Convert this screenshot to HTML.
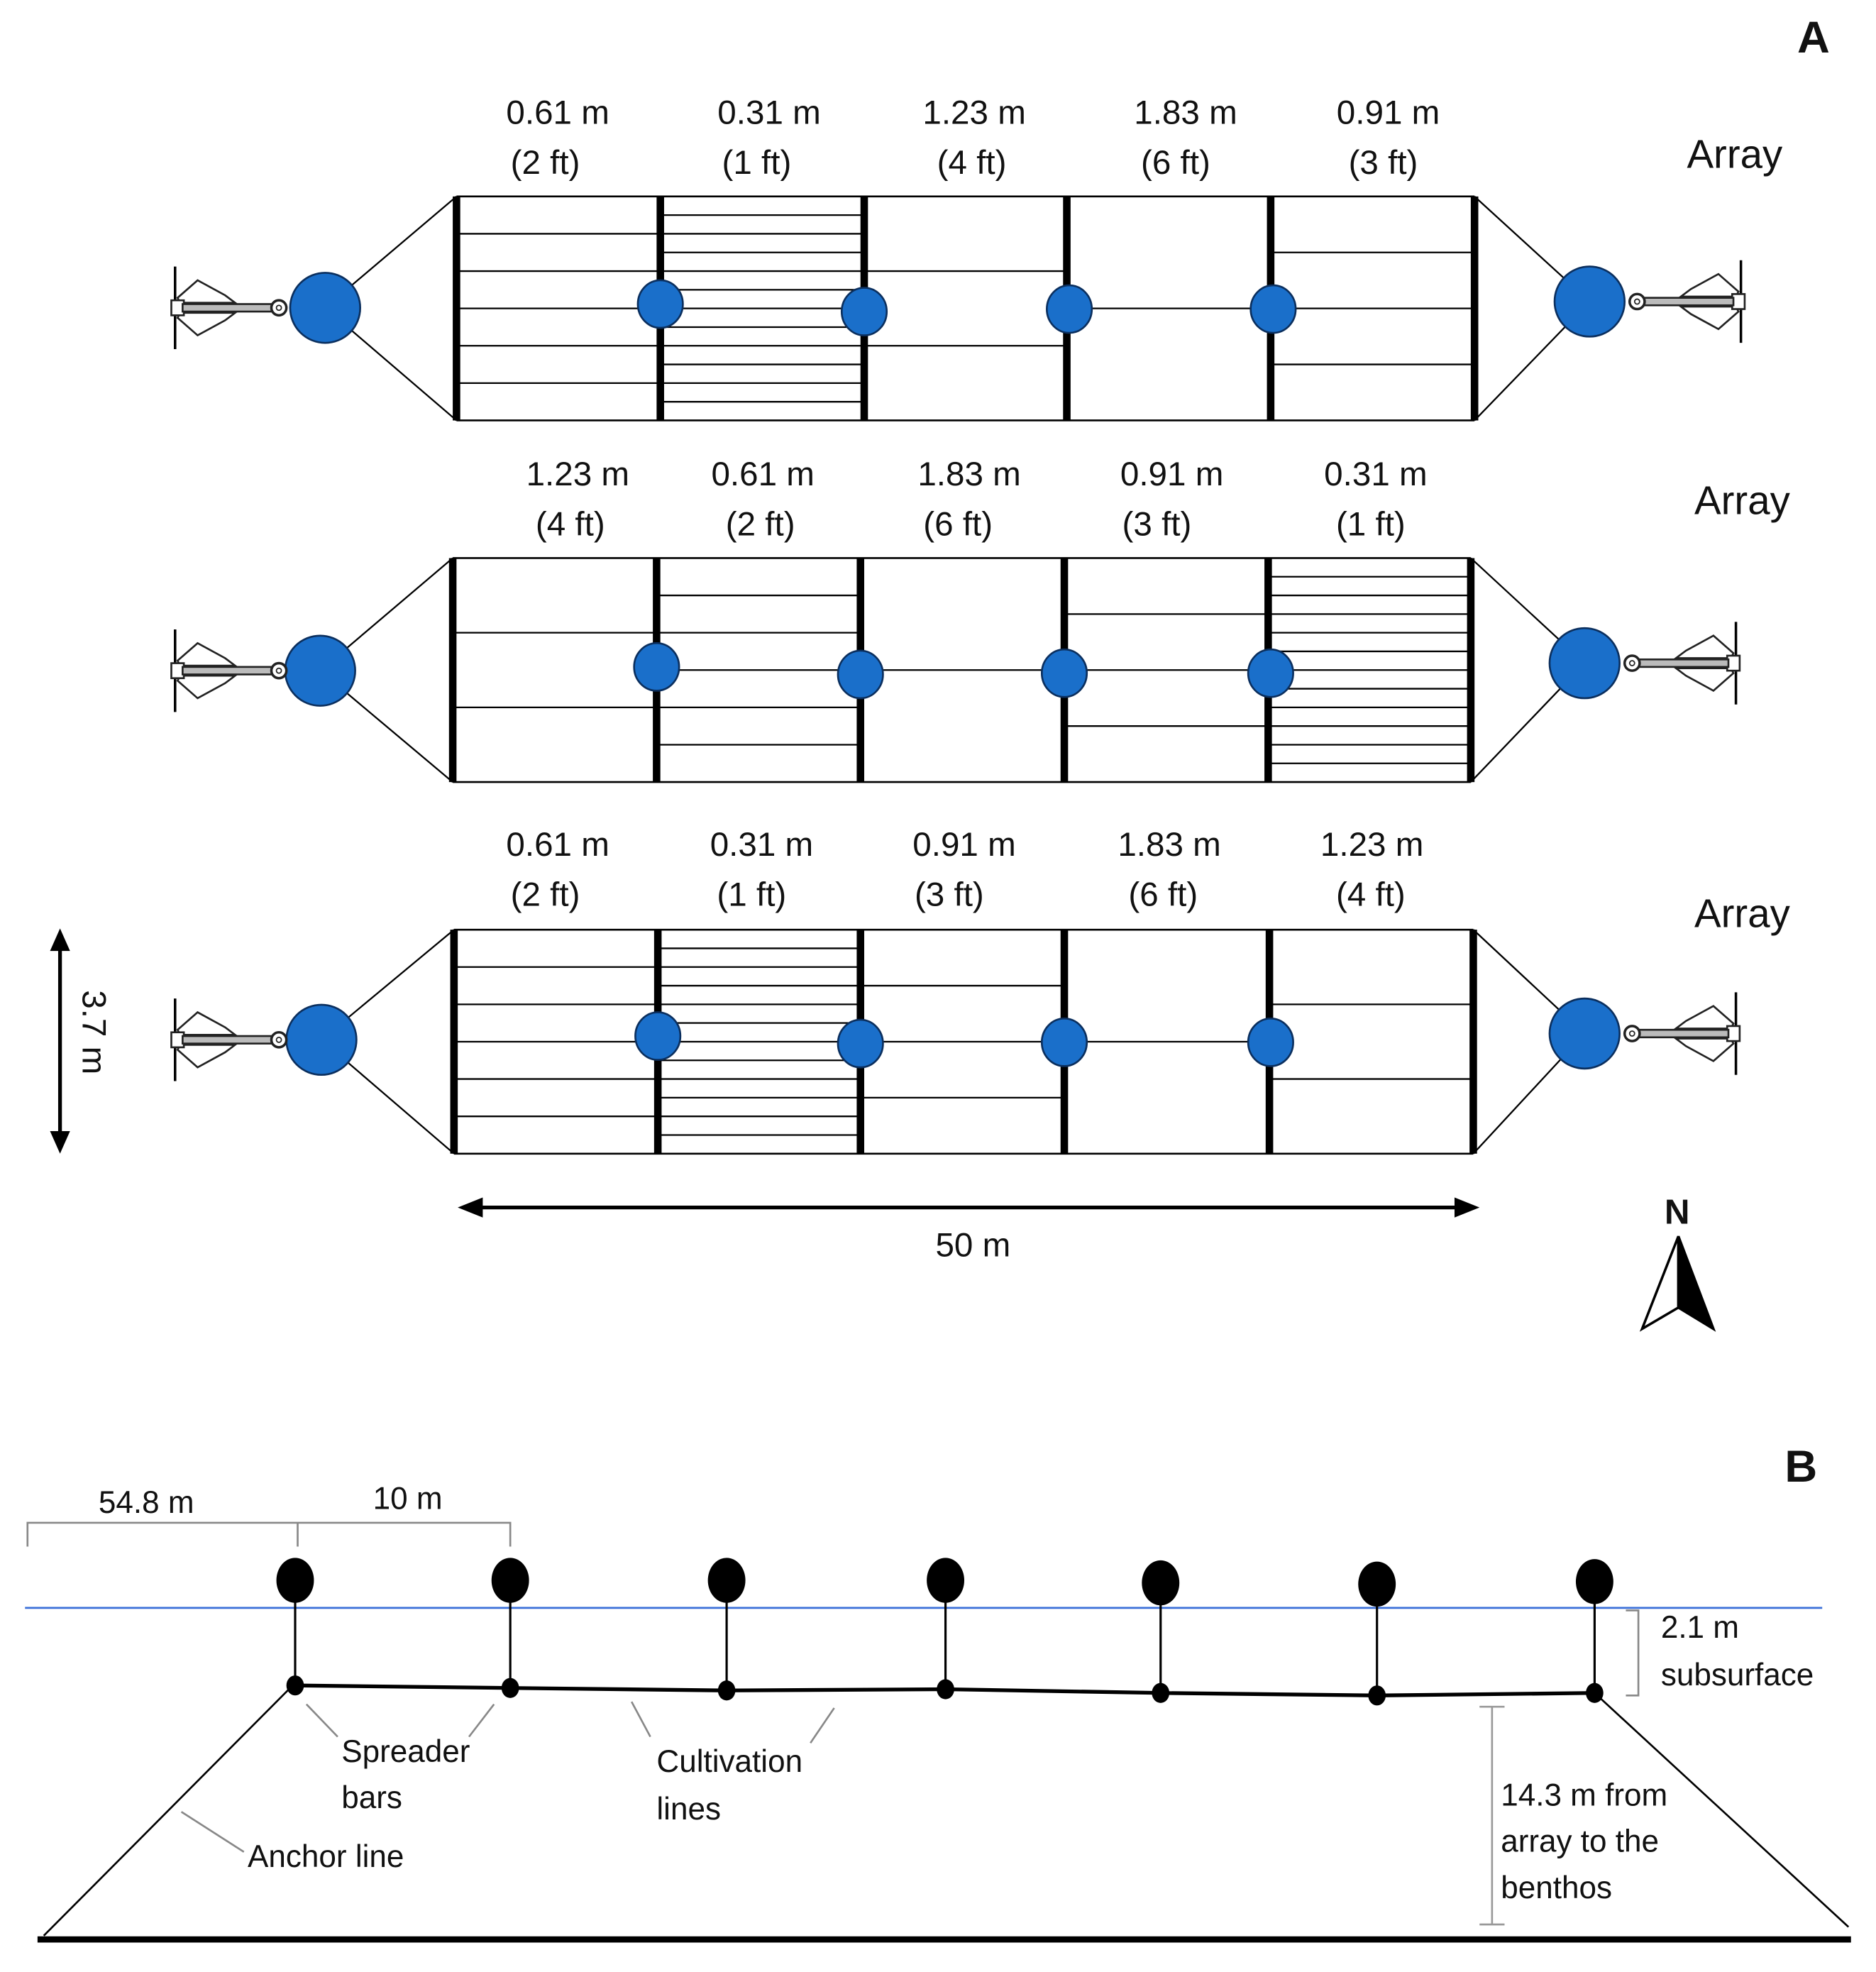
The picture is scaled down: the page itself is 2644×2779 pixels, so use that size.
<!DOCTYPE html>
<html><head><meta charset="utf-8"><style>
html,body{margin:0;padding:0;background:#fff}
svg{display:block}
text{font-family:"Liberation Sans",sans-serif;fill:#111}
</style></head><body>
<svg id="s" width="2644" height="2779" viewBox="0 0 1500 1576" preserveAspectRatio="none" xmlns="http://www.w3.org/2000/svg">
<defs>
<g id="anc">
<line x1="0" y1="-33" x2="0" y2="33" stroke="#000" stroke-width="2"/>
<path d="M2,-8 L18,-22 L40,-10 L48,-4 L4,-4 Z M2,8 L18,22 L40,10 L48,4 L4,4 Z" fill="#fff" stroke="#222" stroke-width="1.5"/>
<rect x="-3" y="-6" width="10" height="12" fill="#fff" stroke="#222" stroke-width="1.5"/>
<rect x="6" y="-3" width="72" height="6" fill="#bbb" stroke="#222" stroke-width="1.5"/>
<circle cx="83" cy="0" r="6" fill="#fff" stroke="#222" stroke-width="2"/>
<circle cx="83" cy="0" r="2" fill="#fff" stroke="#222" stroke-width="1"/>
</g>
</defs>
<g id="arrays"></g>
<!-- Panel A labels -->
<text x="1450" y="42" font-size="36" font-weight="bold" text-anchor="middle">A</text>
<g font-size="27" text-anchor="middle">
<text x="446" y="99">0.61 m</text><text x="436" y="139">(2 ft)</text>
<text x="615" y="99">0.31 m</text><text x="605" y="139">(1 ft)</text>
<text x="779" y="99">1.23 m</text><text x="777" y="139">(4 ft)</text>
<text x="948" y="99">1.83 m</text><text x="940" y="139">(6 ft)</text>
<text x="1110" y="99">0.91 m</text><text x="1106" y="139">(3 ft)</text>

<text x="462" y="388">1.23 m</text><text x="456" y="428">(4 ft)</text>
<text x="610" y="388">0.61 m</text><text x="608" y="428">(2 ft)</text>
<text x="775" y="388">1.83 m</text><text x="766" y="428">(6 ft)</text>
<text x="937" y="388">0.91 m</text><text x="925" y="428">(3 ft)</text>
<text x="1100" y="388">0.31 m</text><text x="1096" y="428">(1 ft)</text>

<text x="446" y="684">0.61 m</text><text x="436" y="724">(2 ft)</text>
<text x="609" y="684">0.31 m</text><text x="601" y="724">(1 ft)</text>
<text x="771" y="684">0.91 m</text><text x="759" y="724">(3 ft)</text>
<text x="935" y="684">1.83 m</text><text x="930" y="724">(6 ft)</text>
<text x="1097" y="684">1.23 m</text><text x="1096" y="724">(4 ft)</text>
</g>
<g font-size="32" text-anchor="middle">
<text x="1387" y="134">Array</text>
<text x="1393" y="411">Array</text>
<text x="1393" y="741">Array</text>
</g>
<!-- 3.7 m arrow -->
<line x1="48" y1="752" x2="48" y2="912" stroke="#000" stroke-width="3"/>
<path d="M48,742 L40,760 L56,760 Z M48,922 L40,904 L56,904 Z" fill="#000"/>
<text x="0" y="0" font-size="27" text-anchor="middle" transform="translate(66,825) rotate(90)">3.7 m</text>
<!-- 50 m arrow -->
<line x1="376" y1="965" x2="1173" y2="965" stroke="#000" stroke-width="3"/>
<path d="M366,965 L386,957 L386,973 Z M1183,965 L1163,957 L1163,973 Z" fill="#000"/>
<text x="778" y="1004" font-size="27" text-anchor="middle">50 m</text>
<!-- North -->
<text x="1341" y="978" font-size="28" font-weight="bold" text-anchor="middle">N</text>
<path d="M1342,988 L1313,1062 L1342,1045 Z" fill="#fff" stroke="#000" stroke-width="2"/>
<path d="M1342,988 L1370,1062 L1342,1045 Z" fill="#000" stroke="#000" stroke-width="2"/>

<!-- Panel B -->
<text x="1440" y="1184" font-size="36" font-weight="bold" text-anchor="middle">B</text>
<path d="M22,1236 L22,1217 L408,1217 L408,1236 M238,1217 L238,1236" fill="none" stroke="#888" stroke-width="1.5"/>
<text x="117" y="1209" font-size="25" text-anchor="middle">54.8 m</text>
<text x="326" y="1206" font-size="25" text-anchor="middle">10 m</text>
<line x1="20" y1="1285" x2="1457" y2="1285" stroke="#3a6fd8" stroke-width="1.5"/>
<g id="bfloats"></g>
<line x1="234" y1="1347" x2="35" y2="1547" stroke="#000" stroke-width="1.5"/>
<line x1="1275" y1="1353" x2="1478" y2="1540" stroke="#000" stroke-width="1.5"/>
<line x1="30" y1="1550" x2="1480" y2="1550" stroke="#000" stroke-width="5"/>
<path d="M1300,1287 L1310,1287 L1310,1355 L1300,1355" fill="none" stroke="#888" stroke-width="1.5"/>
<text x="1328" y="1309" font-size="25">2.1 m</text>
<text x="1328" y="1347" font-size="25">subsurface</text>
<path d="M1183,1364 L1203,1364 M1193,1364 L1193,1538 M1183,1538 L1203,1538" fill="none" stroke="#999" stroke-width="1.5"/>
<text x="1200" y="1443" font-size="25">14.3 m from</text>
<text x="1200" y="1480" font-size="25">array to the</text>
<text x="1200" y="1517" font-size="25">benthos</text>
<g stroke="#888" stroke-width="1.5">
<line x1="245" y1="1362" x2="270" y2="1388"/>
<line x1="395" y1="1362" x2="375" y2="1388"/>
<line x1="505" y1="1360" x2="520" y2="1388"/>
<line x1="667" y1="1365" x2="648" y2="1393"/>
<line x1="145" y1="1448" x2="195" y2="1480"/>
</g>
<text x="273" y="1408" font-size="25">Spreader</text>
<text x="273" y="1445" font-size="25">bars</text>
<text x="525" y="1416" font-size="25">Cultivation</text>
<text x="525" y="1454" font-size="25">lines</text>
<text x="198" y="1492" font-size="25">Anchor line</text>
</svg>
<script>
var NS="http://www.w3.org/2000/svg";
function el(p,t,a){var e=document.createElementNS(NS,t);for(var k in a)e.setAttribute(k,a[k]);p.appendChild(e);return e;}
var G=document.getElementById("arrays");
var arrays=[
 {top:157,bot:336,bars:[365,528,691,853,1016,1179],n:[6,12,3,2,4],lb:[260,246],rb:[1271,241],sb:[[528,243],[691,249],[855,247],[1018,247]]},
 {top:446,bot:625,bars:[362,525,688,851,1014,1176],n:[3,6,2,4,12],lb:[256,536],rb:[1267,530],sb:[[525,533],[688,539],[851,538],[1016,538]]},
 {top:743,bot:922,bars:[363,526,688,851,1015,1178],n:[6,12,4,2,3],lb:[257,831],rb:[1267,826],sb:[[526,828],[688,834],[851,833],[1016,833]]}
];
arrays.forEach(function(a){
 var b=a.bars,h=a.bot-a.top;
 el(G,"line",{x1:b[0],y1:a.top,x2:b[5],y2:a.top,stroke:"#000","stroke-width":1.5});
 el(G,"line",{x1:b[0],y1:a.bot,x2:b[5],y2:a.bot,stroke:"#000","stroke-width":1.5});
 for(var i=0;i<5;i++){for(var j=1;j<a.n[i];j++){var y=a.top+h*j/a.n[i];
  el(G,"line",{x1:b[i],y1:y,x2:b[i+1],y2:y,stroke:"#000","stroke-width":1.3});}}
 b.forEach(function(x){el(G,"line",{x1:x,y1:a.top,x2:x,y2:a.bot,stroke:"#000","stroke-width":6});});
 el(G,"line",{x1:a.lb[0],y1:a.lb[1],x2:b[0],y2:a.top,stroke:"#000","stroke-width":1.3});
 el(G,"line",{x1:a.lb[0],y1:a.lb[1],x2:b[0],y2:a.bot,stroke:"#000","stroke-width":1.3});
 el(G,"line",{x1:a.rb[0],y1:a.rb[1],x2:b[5],y2:a.top,stroke:"#000","stroke-width":1.3});
 el(G,"line",{x1:a.rb[0],y1:a.rb[1],x2:b[5],y2:a.bot,stroke:"#000","stroke-width":1.3});
 el(G,"circle",{cx:a.lb[0],cy:a.lb[1],r:28,fill:"#1a6fca",stroke:"#0b2f5e","stroke-width":1.5});
 el(G,"circle",{cx:a.rb[0],cy:a.rb[1],r:28,fill:"#1a6fca",stroke:"#0b2f5e","stroke-width":1.5});
 a.sb.forEach(function(p){el(G,"ellipse",{cx:p[0],cy:p[1],rx:18,ry:19,fill:"#1a6fca",stroke:"#0b2f5e","stroke-width":1.5});});
 el(G,"use",{href:"#anc",transform:"translate(140,"+a.lb[1]+")"});
 el(G,"use",{href:"#anc",transform:"translate("+(a.rb[0]+121)+","+a.rb[1]+") scale(-1,1)"});
});
var F=document.getElementById("bfloats");
var xs=[236,408,581,756,928,1101,1275],ds=[1347,1349,1351,1350,1353,1355,1353],fy=[1263,1263,1263,1263,1265,1266,1264];
for(var i=0;i<7;i++){
 if(i<6)el(F,"line",{x1:xs[i],y1:ds[i],x2:xs[i+1],y2:ds[i+1],stroke:"#000","stroke-width":3});
 el(F,"line",{x1:xs[i],y1:fy[i],x2:xs[i],y2:ds[i],stroke:"#000","stroke-width":1.8});
 el(F,"ellipse",{cx:xs[i],cy:fy[i],rx:15,ry:18,fill:"#000"});
 el(F,"ellipse",{cx:xs[i],cy:ds[i],rx:7,ry:8,fill:"#000"});
}
</script>
</body></html>
